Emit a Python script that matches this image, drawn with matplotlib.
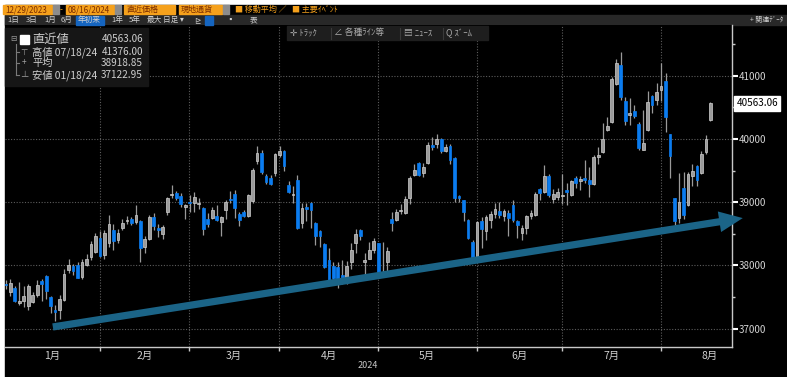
import numpy as np
import pandas as pd
import matplotlib
matplotlib.use("Agg")
import matplotlib.pyplot as plt
from matplotlib.patches import Rectangle, FancyArrowPatch
from matplotlib.transforms import blended_transform_factory

plt.rcParams['font.family'] = ['Noto Sans CJK JP', 'DejaVu Sans']

# trading days shown (US market, 12/29/2023 .. 08/15/2024)
holidays = ["2024-01-01", "2024-01-15", "2024-02-19", "2024-03-29",
            "2024-05-27", "2024-06-19", "2024-07-04"]
dates = pd.bdate_range("2023-12-29", "2024-08-15")
dates = dates[~dates.isin(pd.to_datetime(holidays))]

opens = [37701,
         37585, 37640, 37410, 37430, 37360, 37420, 37540, 37750, 37830, 37500, 37300,
         37300, 37450, 37930, 37990, 38000, 37820, 38010, 38140, 38220, 38440,
         38165, 38350, 38560, 38400, 38600, 38700, 38735, 38680, 38710, 38300,
         38420, 38762, 38600, 38500, 38850, 39120, 39150, 39100, 38920, 39010,
         38990, 38980, 38905, 38730, 38750, 38790, 38680, 38880, 39050, 39130,
         38815, 38840, 38790, 39020, 39650, 39775, 39416, 39380, 39460, 39750,
         39816, 39273, 39110, 39350, 38670, 38920, 38990, 38670, 38540, 38340, 38090,
         37997, 37980, 37850, 37800, 38050, 38350, 38560, 38050, 38100, 38245, 38350,
         37880, 38060, 38730, 38720, 38860, 38830, 39060, 39430, 39617, 39460, 39626,
         39900, 39917, 40000, 39810, 39895, 39705, 39100, 39036, 38720, 38376, 38114,
         38704, 38540, 38720, 38810, 38862, 38780, 38830, 38960, 38700, 38520,
         38600, 38790, 38800, 39210, 39170, 39420, 39050, 39080, 39100,
         39200, 39120, 39380, 39330, 39390, 39360, 39290, 39720, 39790, 40150, 40265,
         40866, 41172, 40600, 40380, 40450, 40234, 39830, 40143, 40686, 40618, 40776,
         40919, 40075, 39063, 38756, 39231, 38960, 39410, 39580, 39460, 39800, 40300]
highs = [37778,
         37790, 37680, 37740, 37680, 37700, 37580, 37770, 37780, 37850, 37520, 37380,
         37540, 37950, 38110, 38030, 38050, 38100, 38180, 38380, 38520, 38540,
         38560, 38800, 38650, 38580, 38730, 38780, 38770, 38950, 38720, 38460,
         38800, 38830, 38650, 38640, 39090, 39280, 39180, 39150, 38980, 39110,
         39160, 39060, 38920, 38830, 38920, 38950, 38790, 39040, 39180, 39190,
         38850, 38870, 39130, 39550, 39890, 39830, 39440, 39430, 39780, 39890,
         39830, 39330, 39260, 39430, 38990, 38990, 39000, 38680, 38560, 38350, 38280,
         38050, 38060, 38080, 38070, 38350, 38580, 38580, 38200, 38370, 38440, 38360,
         38370, 38300, 38850, 38900, 38980, 39100, 39420, 39600, 39640, 39620, 39950,
         40037, 40077, 40020, 39920, 39920, 39710, 39120, 39040, 38730, 38400, 38700,
         38760, 38800, 38860, 38990, 39000, 38900, 38870, 39040, 38720, 38640,
         38800, 38880, 39170, 39230, 39590, 39440, 39210, 39220, 39440,
         39300, 39350, 39420, 39420, 39670, 39560, 39750, 39880, 40257, 40354, 40990,
         41260, 41376, 40660, 40650, 40540, 40270, 40460, 40760, 40700, 40880, 41200,
         41040, 40080, 39070, 39460, 39484, 39480, 39600, 39590, 39810, 40070, 40592]
lows = [37630,
        37510, 37420, 37380, 37340, 37290, 37400, 37500, 37430, 37470, 37250, 37123,
        37150, 37440, 37880, 37850, 37800, 37790, 37990, 38090, 38200, 38130,
        38100, 38300, 38250, 38350, 38560, 38660, 38640, 38660, 38060, 38200,
        38400, 38560, 38450, 38420, 38800, 39060, 39040, 38930, 38740, 38850,
        38850, 38900, 38480, 38610, 38740, 38700, 38460, 38730, 38990, 38750,
        38630, 38760, 38760, 38990, 39600, 39440, 39290, 39270, 39420, 39720,
        39500, 39150, 38990, 38570, 38600, 38700, 38600, 38330, 38300, 37960, 37710,
        37700, 37640, 37700, 37700, 37950, 38200, 38400, 37840, 38100, 38200, 37815,
        37850, 37900, 38550, 38700, 38820, 38820, 38980, 39420, 39420, 39400, 39600,
        39830, 39860, 39780, 39790, 39600, 39000, 39000, 38700, 38420, 38080, 38100,
        38270, 38400, 38600, 38750, 38750, 38700, 38460, 38680, 38430, 38400,
        38500, 38740, 38790, 39030, 39150, 39080, 38990, 39030, 38970,
        38960, 39100, 39230, 39190, 39300, 39080, 39280, 39600, 39780, 40128, 40250,
        40850, 40618, 40220, 40230, 40330, 39830, 39820, 40130, 40420, 40540, 40600,
        40110, 39380, 38600, 38670, 38740, 38940, 39250, 39260, 39450, 39760, 40290]
closes = [37690,
          37715, 37430, 37440, 37520, 37683, 37525, 37696, 37711, 37593, 37361, 37267,
          37469, 37864, 38002, 37905, 37806, 38049, 38109, 38333, 38467, 38150,
          38520, 38654, 38380, 38521, 38677, 38726, 38672, 38797, 38273, 38424,
          38773, 38628, 38564, 38612, 39069, 39131, 39069, 38972, 38949, 38996,
          39087, 38990, 38585, 38661, 38880, 38723, 38770, 39005, 39043, 38906,
          38715, 38790, 39111, 39512, 39781, 39476, 39314, 39282, 39760, 39807,
          39567, 39170, 39127, 38597, 38904, 38893, 38884, 38462, 38459, 37983, 37735,
          37799, 37753, 37775, 37986, 38240, 38504, 38461, 38086, 38240, 38386, 37816,
          37903, 38226, 38676, 38852, 38884, 39056, 39388, 39513, 39432, 39558, 39908,
          39869, 40004, 39807, 39873, 39671, 39065, 39070, 38853, 38442, 38111, 38686,
          38571, 38760, 38807, 38886, 38799, 38868, 38747, 38712, 38647, 38589,
          38778, 38835, 39135, 39150, 39411, 39112, 39128, 39164, 39119,
          39170, 39332, 39308, 39376, 39345, 39292, 39721, 39754, 40001, 40212, 40954,
          41200, 40665, 40288, 40415, 40358, 39854, 39935, 40589, 40540, 40743, 40843,
          40348, 39737, 38703, 38998, 38800, 39446, 39498, 39357, 39766, 40008, 40563]

month_names = ["1月", "2月", "3月", "4月", "5月", "6月", "7月", "8月"]
y_ticks = [37000, 38000, 39000, 40000, 41000]

last_label = "40563.06"
summary_names = ["直近値", "高値 07/18/24", "平均", "安値 01/18/24"]
summary_values = ["40563.06", "41376.00", "38918.85", "37122.95"]

# hand-drawn trend arrow (index, value)
trend_start = (10.5, 37027)
trend_end = (164.2, 38750)

W, H = 787, 377


def fx(x):
    return x / W


def fy(y):
    return 1 - y / H


fig = plt.figure(figsize=(W / 100, H / 100), dpi=100, facecolor="white")
fig.patches.append(Rectangle((fx(5), 0), 1 - fx(5), fy(5), transform=fig.transFigure,
                             color="black", zorder=-3))
fig.patches.append(Rectangle((fx(5), fy(25)), 1 - fx(5), 10 / H, transform=fig.transFigure,
                             color="#282828", zorder=-2))

ax = fig.add_axes([fx(5), fy(347), (732 - 5) / W, (347 - 25) / H])
ax.set_facecolor("black")

x = np.arange(len(dates))
o = np.array(opens)
c = np.array(closes)
hi = np.array(highs)
lo = np.array(lows)
up = c >= o

ax.vlines(x, lo, hi, color="#9a9a9a", lw=0.9, zorder=3)
bottom = np.minimum(o, c)
height = np.maximum(np.abs(c - o), 14)
ax.bar(x[up], height[up], bottom=bottom[up], width=0.62, color="#9b9b9b",
       edgecolor="#cfcfcf", lw=0.5, zorder=4)
ax.bar(x[~up], height[~up], bottom=bottom[~up], width=0.62, color="#0a7cf0",
       edgecolor="#0a7cf0", lw=0.5, zorder=4)

# month boundaries / label positions
month = np.asarray(dates.month)
first_idx = x[1:][month[1:] != month[:-1]]
starts = first_idx - 1.1
bounds = starts[1:]
ends = np.r_[bounds, starts[-1] + 22]
mids = (starts + ends) / 2

ax.set_xticks(bounds)
ax.set_xticklabels([])
ax.set_xticks(mids, minor=True)
ax.set_xticklabels(month_names, minor=True)
ax.tick_params(axis="x", which="major", length=3, color="#c8c8c8", width=1)
ax.tick_params(axis="x", which="minor", length=0, pad=3, labelsize=7.5, labelcolor="#cfcfcf")

ax.yaxis.tick_right()
ax.set_yticks(y_ticks)
ax.set_yticklabels([str(v) for v in y_ticks])
ax.set_yticks(np.arange(36500, 42000, 500), minor=True)
ax.tick_params(axis="y", which="major", length=4, width=1.5, color="white",
               labelsize=7, labelcolor="#d4d4d4", pad=1)
ax.tick_params(axis="y", which="minor", length=2, width=1, color="#c8c8c8")

ax.set_xlim(-0.16, 161.8)
ax.set_ylim(36710, 41805)

for v in y_ticks:
    ax.axhline(v, color="#5c5c5c", lw=0.8, ls=(0, (1, 1.5)), zorder=1)
for b in bounds:
    ax.axvline(b, color="#5c5c5c", lw=0.8, ls=(0, (1, 1.5)), zorder=1)

for s in ["left", "top"]:
    ax.spines[s].set_visible(False)
for s in ["right", "bottom"]:
    ax.spines[s].set_color("#c8c8c8")
    ax.spines[s].set_linewidth(1)

# last price tag
trans = blended_transform_factory(ax.transAxes, ax.transData)
ax.text(1.006, closes[-1], last_label, transform=trans, ha="left", va="center",
        fontsize=7.2, color="black", zorder=6, clip_on=False,
        bbox=dict(boxstyle="square,pad=0.25", fc="white", ec="white"))

# trend arrow
arrow = FancyArrowPatch(trend_start, trend_end,
                        arrowstyle="simple,head_length=1.7,head_width=1.5,tail_width=0.52",
                        mutation_scale=10, color="#1b6487", lw=0, zorder=5,
                        clip_on=False, shrinkA=0, shrinkB=0)
ax.add_patch(arrow)

fig.text(fx(368), fy(366), "2024", ha="center", va="center", fontsize=6.5, color="#c8c8c8")

# summary box
fig.patches.append(Rectangle((fx(5), fy(86)), 143 / W, 58 / H, transform=fig.transFigure,
                             color="#161616", zorder=2))
fig.patches.append(Rectangle((fx(20), fy(44)), 9 / W, 9 / H, transform=fig.transFigure,
                             color="white", zorder=3))
fig.lines.append(plt.Line2D([fx(16), fx(16)], [fy(44), fy(75)], transform=fig.transFigure,
                            color="#7a7a7a", lw=0.8, zorder=3))
for yy in [52, 63, 75]:
    fig.lines.append(plt.Line2D([fx(16), fx(19)], [fy(yy), fy(yy)], transform=fig.transFigure,
                                color="#7a7a7a", lw=0.8, zorder=3))
fig.text(fx(13), fy(39), "⊟", ha="center", va="center", fontsize=5.5, color="#9a9a9a", zorder=4)
fig.text(fx(24), fy(52), "⊤", ha="center", va="center", fontsize=6, color="#a0a0a0", zorder=4)
fig.text(fx(24), fy(63), "+", ha="center", va="center", fontsize=6, color="#a0a0a0", zorder=4)
fig.text(fx(24), fy(75), "⊥", ha="center", va="center", fontsize=6, color="#a0a0a0", zorder=4)
rows_y = [39, 52, 63, 75]
for i, (name, val) in enumerate(zip(summary_names, summary_values)):
    fig.text(fx(32), fy(rows_y[i]), name, ha="left", va="center",
             fontsize=8.8 if i == 0 else 7.4, color="#cfcfcf", zorder=4)
    fig.text(fx(143), fy(rows_y[i]), val, ha="right", va="center",
             fontsize=7.2, color="#cfcfcf", zorder=4)

# chart toolbar
fig.patches.append(Rectangle((fx(287), fy(40)), 201 / W, 14 / H, transform=fig.transFigure,
                             color="#1e1e1e", zorder=2))
for xx, label in [(290, "✛ ﾄﾗｯｸ"), (334, "∠ 各種ﾗｲﾝ等"), (404, "▤ ﾆｭｰｽ"), (446, "Q ｽﾞｰﾑ")]:
    fig.text(fx(xx), fy(33), label, ha="left", va="center", fontsize=6.3,
             color="#a8a8a8", zorder=4)
for xx in [331, 400, 443]:
    fig.lines.append(plt.Line2D([fx(xx), fx(xx)], [fy(28), fy(39)], transform=fig.transFigure,
                                color="#3a3a3a", lw=0.8, zorder=3))

# top input row
orange = "#f5a11c"
for x0, x1, label in [(3, 52, "12/29/2023"), (66, 114, "08/16/2024"),
                      (124, 175, "直近価格"), (179, 222, "現地通貨")]:
    fig.patches.append(Rectangle((fx(x0), fy(14)), (x1 - x0) / W, 9 / H,
                                 transform=fig.transFigure, color=orange, zorder=2))
    fig.text(fx(x0 + 2), fy(9.5), label, ha="left", va="center", fontsize=5.8,
             color="#7a2c00", zorder=4)
for x0 in [53, 115, 223]:
    fig.patches.append(Rectangle((fx(x0), fy(14)), 6 / W, 9 / H,
                                 transform=fig.transFigure, color="#8c8c8c", zorder=2))
fig.text(fx(61), fy(9.5), "-", ha="center", va="center", fontsize=6, color=orange)
fig.text(fx(235), fy(9.5), "■ 移動平均 ∕", ha="left", va="center", fontsize=5.8, color=orange)
fig.text(fx(292), fy(9.5), "■ 主要ｲﾍﾞﾝﾄ", ha="left", va="center", fontsize=5.8, color=orange)

# period button row
fig.patches.append(Rectangle((fx(76), fy(24.5)), 28 / W, 9 / H, transform=fig.transFigure,
                             color="#1565c0", zorder=2))
for xx, label in [(7, "1日"), (26, "3日"), (44, "1月"), (61, "6月"), (78, "年初来"),
                  (111, "1年"), (129, "5年"), (147, "最大"), (163, "日足 ▾"),
                  (194, "⊵"), (226, "▪"), (250, "表")]:
    fig.text(fx(xx), fy(20), label, ha="left", va="center", fontsize=5.5,
             color="#d0d0d0", zorder=4)
fig.patches.append(Rectangle((fx(205), fy(24.5)), 8 / W, 9 / H, transform=fig.transFigure,
                             color="#1565c0", zorder=2))
fig.text(fx(750), fy(20), "+ 関連ﾃﾞｰﾀ", ha="left", va="center", fontsize=5,
         color="#d0d0d0", zorder=4)

fig.savefig("out.png", dpi=100, facecolor=fig.get_facecolor())
